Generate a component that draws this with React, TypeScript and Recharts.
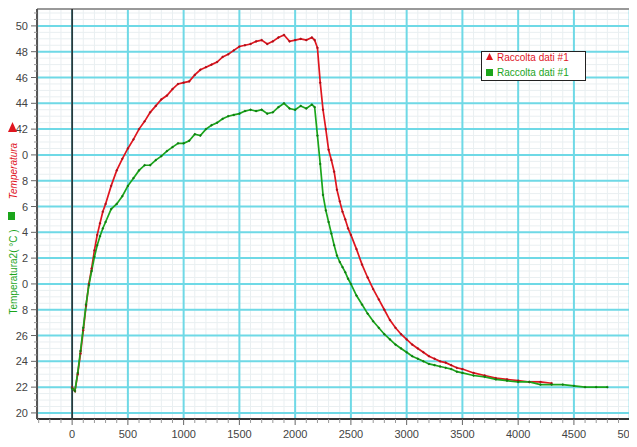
import { CartesianGrid, Line, LineChart, ReferenceLine, XAxis, YAxis } from "recharts";

// tempo (s)
const TEMPO = [
  0, 25, 50, 75, 100, 125, 150, 175, 200, 225, 250, 275, 300,
  350, 400, 450, 500, 550, 600, 650, 700, 750, 800, 850, 900, 950, 1000,
  1050, 1100, 1150, 1200, 1250, 1300, 1350, 1400, 1450, 1500, 1550, 1600,
  1650, 1700, 1750, 1800, 1850, 1900, 1950, 2000, 2050, 2100, 2150,
  2175, 2200, 2225, 2250, 2275, 2300, 2325, 2350, 2375, 2400, 2425, 2450, 2475, 2500,
  2550, 2600, 2650, 2700, 2750, 2800, 2850, 2900, 2950, 3000,
  3050, 3100, 3150, 3200, 3250, 3300, 3350, 3400, 3450, 3500,
  3600, 3700, 3800, 3900, 4000, 4100, 4200, 4300, 4400, 4500, 4600, 4700, 4800,
];

// Temperatura (red)
const TEMPERATURA = [
  22.0, 21.7, 23.0, 24.6, 26.4, 28.3, 30.0, 31.2, 32.6, 33.8, 34.7, 35.6, 36.2,
  37.6, 38.8, 39.7, 40.5, 41.2, 42.0, 42.6, 43.3, 43.8, 44.3, 44.6, 45.1, 45.5, 45.6,
  45.7, 46.2, 46.6, 46.8, 47.0, 47.2, 47.6, 47.8, 48.1, 48.4, 48.5, 48.6,
  48.8, 48.9, 48.6, 48.8, 49.1, 49.3, 48.8, 48.9, 49.0, 48.9, 49.1,
  48.9, 48.3, 45.6, 43.5, 42.0, 40.4, 39.6, 38.7, 37.3, 36.4, 35.6, 35.0, 34.3, 33.8,
  32.7, 31.5, 30.5, 29.6, 28.8, 28.0, 27.2, 26.6, 26.1, 25.7,
  25.3, 25.0, 24.7, 24.4, 24.2, 24.0, 23.9, 23.7, 23.5, 23.4,
  23.1, 22.9, 22.7, 22.6, 22.5, 22.4, 22.4, 22.3, null, null, null, null, null,
];

// Temperatura2 (green)
const TEMPERATURA2 = [
  21.9, 21.7, 23.1, 24.8, 26.6, 28.4, 29.9, 31.0, 32.1, 33.0, 33.7, 34.3, 34.8,
  35.8, 36.2, 36.8, 37.6, 38.2, 38.8, 39.2, 39.2, 39.6, 39.9, 40.3, 40.6, 40.9, 40.9,
  41.1, 41.6, 41.5, 42.0, 42.3, 42.5, 42.8, 43.0, 43.1, 43.2, 43.4, 43.5,
  43.4, 43.5, 43.2, 43.3, 43.7, 44.0, 43.6, 43.5, 43.8, 43.6, 43.9,
  43.7, 41.5, 39.3, 36.9, 35.7, 34.8, 33.9, 33.0, 32.2, 31.7, 31.3, 30.9, 30.4, 30.0,
  29.1, 28.4, 27.7, 27.1, 26.6, 26.1, 25.7, 25.3, 25.0, 24.7,
  24.4, 24.2, 24.0, 23.8, 23.7, 23.6, 23.5, 23.4, 23.2, 23.1,
  22.9, 22.8, 22.6, 22.5, 22.4, 22.4, 22.2, 22.2, 22.2, 22.1, 22.0, 22.0, 22.0,
];

const X_TICKS = [0, 500, 1000, 1500, 2000, 2500, 3000, 3500, 4000, 4500, 5000];
const X_TICK_LABELS = ["0", "500", "1000", "1500", "2000", "2500", "3000", "3500", "4000", "4500", "5000"];
const Y_TICKS = [20, 22, 24, 26, 28, 30, 32, 34, 36, 38, 40, 42, 44, 46, 48, 50];
// the axis titles cover the first digit of several labels
const Y_TICK_LABELS = ["20", "22", "24", "26", "8", "0", "2", "4", "6", "8", "0", "42", "44", "46", "48", "50"];
const SERIES_NAMES = ["Raccolta dati #1", "Raccolta dati #1"];

const X_DOMAIN = [-315, 5272];
const Y_DOMAIN = [19.53, 51.31];

const RED = "#e0161f";
const GREEN = "#1ba51b";
const CYAN = "#6fd9e6";
const FONT = "'Liberation Sans', Arial, sans-serif";

const X_MINOR: number[] = [];
for (let v = -300; v <= 5200; v += 100) X_MINOR.push(v);
const Y_MINOR: number[] = [];
for (let i = 40; i <= 102; i++) Y_MINOR.push(i / 2);

const data = TEMPO.map((t, i) => ({
  t,
  temperatura: TEMPERATURA[i],
  temperatura2: TEMPERATURA2[i],
}));

function YTick({ x, y, payload }: any) {
  const idx = Y_TICKS.indexOf(payload.value);
  if (idx < 0) {
    return <line x1={x} x2={x - 3} y1={y} y2={y} stroke="#999" strokeWidth={1} />;
  }
  return (
    <g>
      <line x1={x} x2={x - 6} y1={y} y2={y} stroke="#666" strokeWidth={1} />
      <text x={x - 9} y={y} dy={4} textAnchor="end" fontSize={11} fontFamily={FONT} fill="#444">
        {Y_TICK_LABELS[idx]}
      </text>
    </g>
  );
}

function XTick({ x, y, payload }: any) {
  const idx = X_TICKS.indexOf(payload.value);
  if (idx < 0) {
    return <line x1={x} x2={x} y1={y} y2={y + 4} stroke="#999" strokeWidth={1} />;
  }
  return (
    <g>
      <line x1={x} x2={x} y1={y} y2={y + 6} stroke="#666" strokeWidth={1} />
      <text x={x} y={y + 19} textAnchor="middle" fontSize={11} fontFamily={FONT} fill="#444">
        {X_TICK_LABELS[idx]}
      </text>
    </g>
  );
}

export default function App() {
  return (
    <div
      style={{
        position: "relative",
        width: 637,
        height: 447,
        margin: -8,
        overflow: "hidden",
        background: "#fff",
      }}
    >
      <LineChart
        width={660}
        height={447}
        data={data}
        margin={{ top: 9, right: 0, bottom: 0, left: 0 }}
      >
        <CartesianGrid
          horizontalValues={Y_MINOR}
          verticalValues={X_MINOR}
          stroke="#e9eff1"
          strokeWidth={1}
        />
        <CartesianGrid
          horizontalValues={Y_TICKS}
          verticalValues={X_TICKS}
          stroke={CYAN}
          strokeWidth={2}
        />
        <XAxis
          dataKey="t"
          type="number"
          domain={X_DOMAIN}
          allowDataOverflow
          ticks={X_MINOR}
          interval={0}
          tick={(p: any) => <XTick {...p} />}
          tickLine={false}
          tickSize={0}
          tickMargin={0}
          height={28}
          axisLine={{ stroke: "#333", strokeWidth: 2 }}
        />
        <YAxis
          type="number"
          domain={Y_DOMAIN}
          allowDataOverflow
          ticks={Y_MINOR}
          interval={0}
          tick={(p: any) => <YTick {...p} />}
          tickLine={false}
          tickSize={0}
          tickMargin={0}
          width={37}
          axisLine={{ stroke: "#555", strokeWidth: 2 }}
        />
        <ReferenceLine y={Y_DOMAIN[1]} stroke="#999" strokeWidth={2} />
        <ReferenceLine x={0} stroke="#222" strokeWidth={1.5} />
        <Line
          type="linear"
          dataKey="temperatura"
          name={SERIES_NAMES[0]}
          stroke={RED}
          strokeWidth={1.7}
          dot={{ r: 0.9, fill: "#a8101a", stroke: "#a8101a", strokeWidth: 0.5 }}
          isAnimationActive={false}
        />
        <Line
          type="linear"
          dataKey="temperatura2"
          name={SERIES_NAMES[1]}
          stroke={GREEN}
          strokeWidth={1.7}
          dot={{ r: 0.9, fill: "#0f7a10", stroke: "#0f7a10", strokeWidth: 0.5 }}
          isAnimationActive={false}
        />
      </LineChart>
      <svg
        width={637}
        height={447}
        style={{ position: "absolute", left: 0, top: 0, pointerEvents: "none" }}
      >
        <polygon points="8,132 12.5,122 17,132" fill={RED} />
        <text
          transform="translate(17,171) rotate(-90)"
          textAnchor="middle"
          fontSize={10}
          fontStyle="italic"
          fontFamily={FONT}
          fill={RED}
        >
          Temperatura
        </text>
        <rect x={7} y={212} width={8} height={8} fill={GREEN} />
        <text
          transform="translate(17,272) rotate(-90)"
          textAnchor="middle"
          fontSize={10}
          fontFamily={FONT}
          fill={GREEN}
        >
          Temperatura2( °C )
        </text>
        <text x={345} y={452} textAnchor="middle" fontSize={11} fontFamily={FONT} fill="#333">
          Tempo( s )
        </text>
        <rect x={481.5} y={51.5} width={104} height={29} fill="#fff" stroke="#222" strokeWidth={1} />
        <polygon points="486,60 489.5,53 493,60" fill={RED} />
        <text x={497} y={61} fontSize={10} fontFamily={FONT} fill={RED}>
          {SERIES_NAMES[0]}
        </text>
        <rect x={486} y={69} width={7} height={7} fill={GREEN} />
        <text x={497} y={76} fontSize={10} fontFamily={FONT} fill={GREEN}>
          {SERIES_NAMES[1]}
        </text>
      </svg>
    </div>
  );
}
